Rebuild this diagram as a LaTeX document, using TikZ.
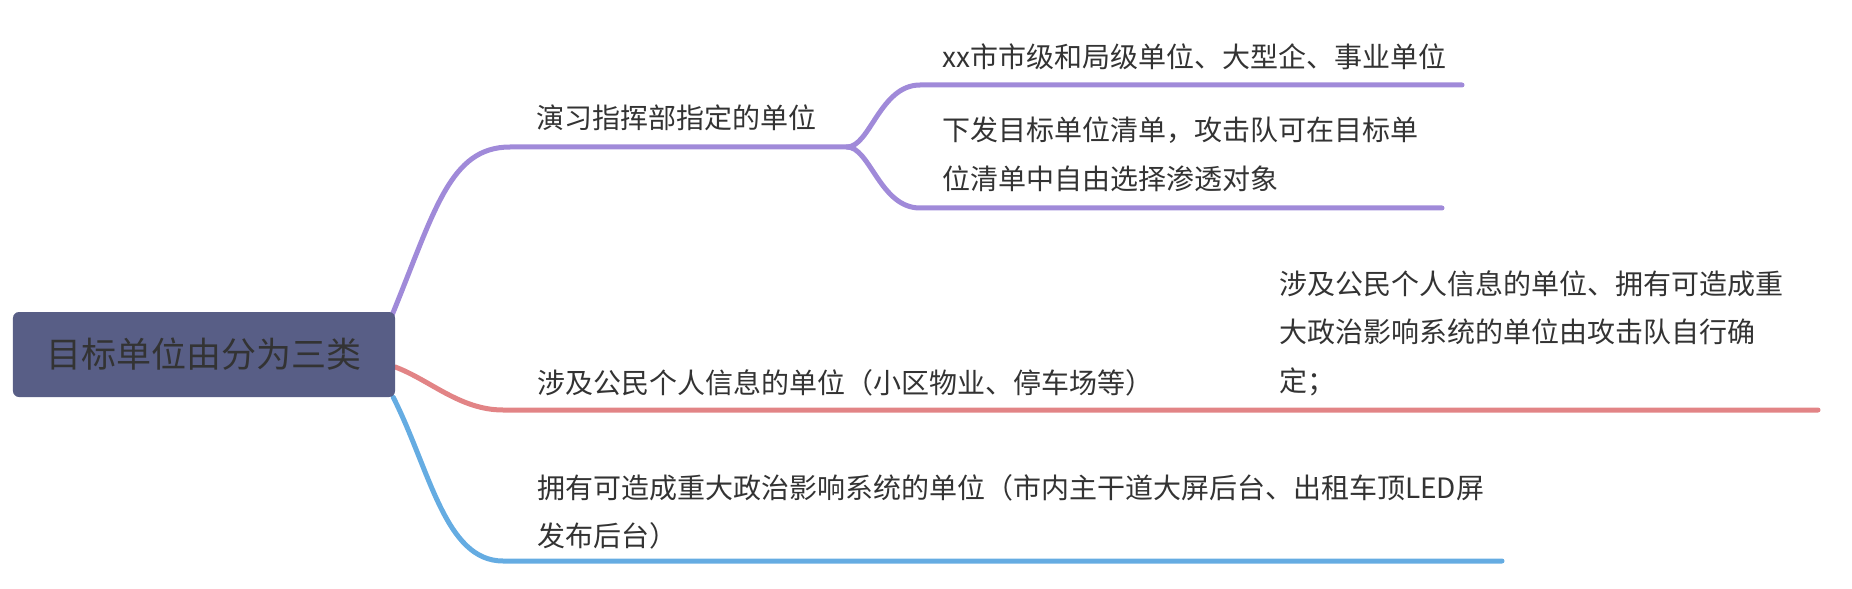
\documentclass[tikz,border=0pt]{standalone}
\usepackage{fontspec}
\newfontfamily\cjkfont{Noto Sans CJK SC}
\usetikzlibrary{backgrounds}
\definecolor{rootfill}{RGB}{88,94,134}
\definecolor{inkgray}{RGB}{51,51,51}
\definecolor{drillpurple}{RGB}{160,138,217}
\definecolor{privacyred}{RGB}{226,132,134}
\definecolor{politicsblue}{RGB}{101,172,226}

\begin{document}
\begin{tikzpicture}[
  x=1bp, y=-1bp,
  rootnode/.style={fill=rootfill, rounded corners=6bp, minimum width=382bp, minimum height=85bp, text=inkgray, font=\cjkfont\fontsize{35bp}{42bp}\selectfont},
  topic/.style={anchor=base west, inner sep=0pt, align=left, text=inkgray, font=\cjkfont\fontsize{28bp}{48.5bp}\selectfont},
  branch/.style={line width=5bp, line cap=round}
]
\useasboundingbox (0,0) rectangle (1852,589);

\node[rootnode] (root) at (204,354.5) {目标单位由分为三类};

% first level (base = last line)
\node[topic] (drill) at (536,129) {演习指挥部指定的单位};
\node[topic] (privacy) at (537,393) {涉及公民个人信息的单位（小区物业、停车场等）};
\node[topic] (politics) at (537,546.5) {拥有可造成重大政治影响系统的单位（市内主干道大屏后台、出租车顶LED屏\\发布后台）};

% second level
\node[topic] (units) at (942,68) {xx市市级和局级单位、大型企、事业单位};
\node[topic] (targetlist) at (942,189.5) {下发目标单位清单，攻击队可在目标单\\位清单中自由选择渗透对象};
\node[topic] (selfpick) at (1279,391) {涉及公民个人信息的单位、拥有可造成重\\大政治影响系统的单位由攻击队自行确\\定；};

% underline ends
\coordinate (drill-l) at (510,147);
\coordinate (drill-r) at (847,147);
\coordinate (units-l) at (920,85);
\coordinate (units-r) at (1462,85);
\coordinate (targetlist-l) at (920,208);
\coordinate (targetlist-r) at (1442,208);
\coordinate (privacy-l) at (503,410);
\coordinate (privacy-r) at (1160,410);
\coordinate (selfpick-l) at (1258,410);
\coordinate (selfpick-r) at (1818,410);
\coordinate (politics-l) at (503,561);
\coordinate (politics-r) at (1502,561);

\begin{scope}[on background layer]
\draw[branch, drillpurple] ([xshift=-3bp,yshift=-3bp]root.north east) .. controls (435,210) and (450,147) .. (drill-l) -- (drill-r);
\draw[branch, drillpurple] (drill-r) .. controls (870,147) and (880,85) .. (units-l) -- (units-r);
\draw[branch, drillpurple] (drill-r) .. controls (870,147) and (880,208) .. (targetlist-l) -- (targetlist-r);
\draw[branch, privacyred] ([yshift=-12.5bp]root.east) .. controls (430,380) and (460,410) .. (privacy-l) -- (privacy-r) -- (selfpick-l) -- (selfpick-r);
\draw[branch, politicsblue] ([xshift=-2bp]root.south east) .. controls (430,470) and (445,561) .. (politics-l) -- (politics-r);
\end{scope}
\end{tikzpicture}
\end{document}
